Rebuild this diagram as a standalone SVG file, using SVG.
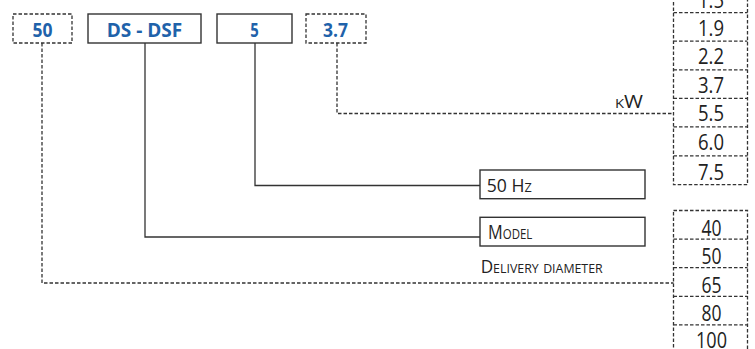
<svg xmlns="http://www.w3.org/2000/svg" width="755" height="349" viewBox="0 0 755 349">
<style>
.solid{fill:#fff;stroke:#333;stroke-width:1.4}
.dash{fill:none;stroke:#333;stroke-width:1.3;stroke-dasharray:3.5 2}
.wire{fill:none;stroke:#333;stroke-width:1.3}
.code{font-family:"Open Sans","DejaVu Sans",sans-serif;font-weight:bold;font-size:20px;fill:#1f62aa;text-anchor:middle}
.val{font-family:"Open Sans","DejaVu Sans",sans-serif;font-size:22px;fill:#222;text-anchor:middle}
.lbl{font-family:"Open Sans","DejaVu Sans",sans-serif;font-size:18px;fill:#222;font-variant:small-caps}
</style>
<g id="connectors">
<polyline class="dash" points="42,43 42,283 673.5,283"/>
<polyline class="wire" points="145,43 145,237 480,237"/>
<polyline class="wire" points="255,43 255,185.5 480,185.5"/>
<polyline class="dash" points="337,43 337,113.5 673.5,113.5"/>
</g>
<g id="code-50"><rect class="dash" x="13" y="14" width="59" height="29"/><text class="code" x="42.5" y="37.3" textLength="20" lengthAdjust="spacingAndGlyphs">50</text></g>
<g id="code-model"><rect class="solid" x="88" y="14" width="113" height="29"/><text class="code" x="144.5" y="37.3" textLength="75.6" lengthAdjust="spacingAndGlyphs">DS - DSF</text></g>
<g id="code-freq"><rect class="solid" x="217" y="14" width="75" height="29"/><text class="code" x="254.5" y="37.3" textLength="8.5" lengthAdjust="spacingAndGlyphs">5</text></g>
<g id="code-kw"><rect class="dash" x="306" y="14" width="60" height="29"/><text class="code" x="335.5" y="37.3" textLength="25" lengthAdjust="spacingAndGlyphs">3.7</text></g>
<g id="label-kw"><text class="lbl" x="615" y="107.7" textLength="28" lengthAdjust="spacingAndGlyphs">kW</text></g>
<g id="label-hz"><rect class="solid" x="480" y="170" width="165" height="28.7"/><text class="lbl" x="486.7" y="192" textLength="45" lengthAdjust="spacingAndGlyphs">50 Hz</text></g>
<g id="label-model"><rect class="solid" x="480" y="217.3" width="165" height="28.7"/><text class="lbl" x="488" y="239.2" style="font-size:20px" textLength="44.3" lengthAdjust="spacingAndGlyphs">Model</text></g>
<g id="label-diameter"><text class="lbl" x="480.7" y="273.3" textLength="122" lengthAdjust="spacingAndGlyphs">Delivery diameter</text></g>
<g id="table-kw">
<rect class="dash" x="673.5" y="-16" width="74" height="200.7"/>
<path class="dash" d="M673.5 12.7H747.5M673.5 41.2H747.5M673.5 69.8H747.5M673.5 98.3H747.5M673.5 126.8H747.5M673.5 155.8H747.5"/>
<text class="val" x="711" y="7.7" textLength="26" lengthAdjust="spacingAndGlyphs">1.5</text>
<text class="val" x="711" y="35.8" textLength="26" lengthAdjust="spacingAndGlyphs">1.9</text>
<text class="val" x="711" y="64.3" textLength="26" lengthAdjust="spacingAndGlyphs">2.2</text>
<text class="val" x="711" y="92.9" textLength="26" lengthAdjust="spacingAndGlyphs">3.7</text>
<text class="val" x="711" y="121.4" textLength="26" lengthAdjust="spacingAndGlyphs">5.5</text>
<text class="val" x="711" y="150.1" textLength="26" lengthAdjust="spacingAndGlyphs">6.0</text>
<text class="val" x="711" y="179.5" textLength="26" lengthAdjust="spacingAndGlyphs">7.5</text>
</g>
<g id="table-diameter">
<rect class="dash" x="673.5" y="210.5" width="74" height="143"/>
<path class="dash" d="M673.5 239.1H747.5M673.5 267.7H747.5M673.5 296.3H747.5M673.5 324.9H747.5"/>
<text class="val" x="711.5" y="235.5" textLength="20" lengthAdjust="spacingAndGlyphs">40</text>
<text class="val" x="711.5" y="264.1" textLength="20" lengthAdjust="spacingAndGlyphs">50</text>
<text class="val" x="711.5" y="292.7" textLength="20" lengthAdjust="spacingAndGlyphs">65</text>
<text class="val" x="711.5" y="321.3" textLength="20" lengthAdjust="spacingAndGlyphs">80</text>
<text class="val" x="711.5" y="348" textLength="31" lengthAdjust="spacingAndGlyphs">100</text>
</g>
</svg>
